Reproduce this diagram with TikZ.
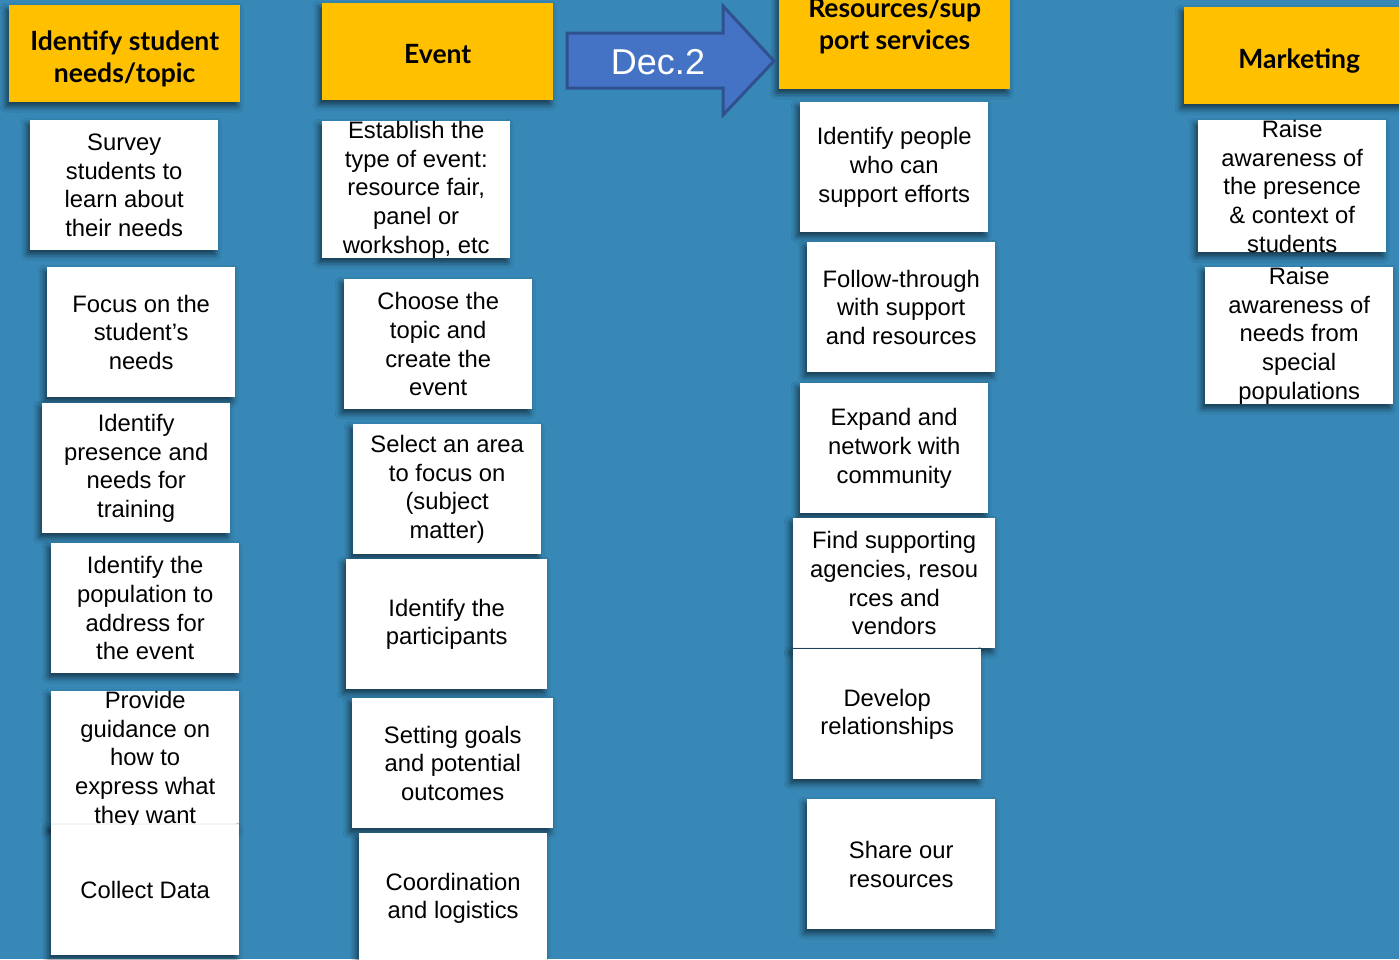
\documentclass[tikz,border=0pt]{standalone}
\usepackage{fontspec}
\setmainfont{Liberation Sans}
\newfontfamily\hdrfam{Lato}
\usetikzlibrary{shadows.blur}
\definecolor{bgblue}{RGB}{55,136,182}
\definecolor{hdryellow}{RGB}{255,192,0}
\definecolor{arrowfill}{RGB}{68,114,196}
\definecolor{arrowline}{RGB}{47,82,143}
\newcommand\bodyfnt{\fontsize{23.8}{28.7}\selectfont}
\newcommand\hdrfnt{\hdrfam\bfseries\fontsize{26.5}{32.5}\selectfont}
\tikzset{
  shade/.style={blur shadow={shadow xshift=-3pt, shadow yshift=-4pt, shadow blur radius=6pt, shadow opacity=60}},
  hdr/.style={shade, fill=hdryellow, anchor=north west, inner sep=0pt,
    minimum width=231pt, minimum height=97pt},
  hdrtext/.style={inner sep=0pt, align=center, font=\hdrfnt},
  note/.style={shade, fill=white, anchor=north west, inner sep=0pt,
    minimum width=188pt, minimum height=130pt, align=center, font=\bodyfnt},
}
\begin{document}
\begin{tikzpicture}[x=1pt,y=-1pt]
\useasboundingbox (0,0) rectangle (1399,959);
\fill[bgblue] (0,0) rectangle (1399,959);

% headers
\node[hdr] (h1) at (9,5) {};
\node[hdr] (h2) at (322,3) {};
\node[hdr] (h3) at (779,-8) {};
\node[hdr, minimum width=230pt] (h4) at (1184,7) {};
\node[hdrtext] (h1t) at ([yshift=-5pt]h1.center) {Identify student\\needs/topic};
\node[hdrtext] (h2t) at ([yshift=-2pt]h2.center) {Event};
\node[hdrtext] (h3t) at ([yshift=15pt]h3.center) {Resources/sup\\port services};
\node[hdrtext] (h4t) at ([yshift=-5pt]h4.center) {Marketing};

% arrow
\draw[fill=arrowfill, draw=arrowline, line width=3pt, line join=miter]
  (567,33) -- (723,33) -- (723,6) -- (774,61) -- (723,115) -- (723,88) -- (567,88) -- cycle;
\node[text=white, font=\fontsize{36}{40}\selectfont] (dec) at (658,62) {Dec.2};

% column 1
\node[note] (s1) at (30,120) {Survey\\students to\\learn about\\their needs};
\node[note] (s2) at (47,267) {Focus on the\\student's\\needs};
\node[note] (s3) at (42,403) {Identify\\presence and\\needs for\\training};
\node[note] (s4) at (51,543) {Identify the\\population to\\address for\\the event};
\node[note] (s5) at (51,691) {Provide\\guidance on\\how to\\express what\\they want};
\node[note] (s6) at (51,825) {Collect Data};

% column 2
\node[note] (e1) at (322,121) {Establish the\\type of event:\\resource fair,\\panel or\\workshop, etc};
\node[note] (e2) at (344,279) {Choose the\\topic and\\create the\\event};
\node[note] (e3) at (353,424) {Select an area\\to focus on\\(subject\\matter)};
\node[note, minimum width=201pt] (e4) at (346,559) {Identify the\\participants};
\node[note, minimum width=201pt] (e5) at (352,698) {Setting goals\\and potential\\outcomes};
\node[note] (e6) at (359,833) {Coordination\\and logistics};

% column 3
\node[note] (r1) at (800,102) {Identify people\\who can\\support efforts};
\node[note] (r2) at (807,242) {Follow-through\\with support\\and resources};
\node[note] (r3) at (800,383) {Expand and\\network with\\community};
\node[note, minimum width=202pt] (r4) at (793,518) {Find supporting\\agencies, resou\\rces and\\vendors};
\node[note] (r5) at (793,649) {Develop\\relationships};
\node[note] (r6) at (807,799) {Share our\\resources};

% column 4
\node[note] (m1) at (1198,120) {Raise\\awareness of\\the presence\\\& context of\\students};
\node[note] (m2) at (1205,267) {Raise\\awareness of\\needs from\\special\\populations};
\end{tikzpicture}
\end{document}
